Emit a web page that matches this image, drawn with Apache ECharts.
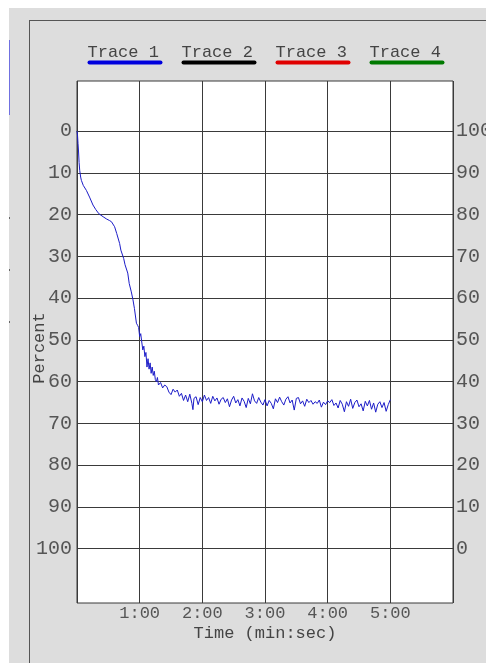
<!DOCTYPE html>
<html>
<head>
<meta charset="utf-8">
<script src="https://cdn.jsdelivr.net/npm/echarts@6/dist/echarts.min.js"></script>
<style>
  html, body { margin: 0; padding: 0; background: #ffffff; }
  #bg { position: absolute; left: 9px; top: 8px; right: 0; bottom: 0; background: #dddddd; }
  #frame { position: absolute; left: 29px; top: 20px; right: 0; bottom: 0; border-left: 1px solid #555; border-top: 1px solid #555; }
  #frag { position: absolute; left: 9px; top: 40px; width: 1px; height: 75px; background: #7070e0; }
  .tk { position: absolute; left: 9px; width: 1px; height: 2px; background: #666; }
  #chart { position: absolute; left: 0; top: 0; width: 486px; height: 663px; }
</style>
</head>
<body>
<div id="bg"></div>
<div id="frame"></div>
<div id="frag"></div>
<div class="tk" style="top:217px"></div>
<div class="tk" style="top:269px"></div>
<div class="tk" style="top:321px"></div>
<div id="chart"></div>
<script>
// ---- data ----
const traceNames = ['Trace 1', 'Trace 2', 'Trace 3', 'Trace 4'];
const traceColors = ['#0000dd', '#000000', '#e00000', '#007a00'];
const percentTicks = [0, 10, 20, 30, 40, 50, 60, 70, 80, 90, 100];
const timeTickValues = [60, 120, 180, 240, 300];
const timeTickLabels = ['1:00', '2:00', '3:00', '4:00', '5:00'];

const timeSec = [
  0, 0.5, 1, 1.5, 2, 2.6, 3.5, 4.2, 6, 9, 12, 15.3, 18, 21, 25, 28, 31, 33, 36, 38,
  40.8, 42, 44.7, 46, 48.6, 50, 52, 53.6, 55, 56.9, 58, 59, 60, 61, 62, 63, 64, 65, 66, 67,
  68, 69, 70, 71, 72, 73, 74, 75, 76, 77, 78, 80, 82, 84, 86, 88, 90, 92, 94, 96,
  98, 100, 102, 104, 106, 108, 110, 111, 112, 114, 116, 118, 120, 122, 124, 126, 128, 130, 132, 134,
  136, 138, 140, 142, 144, 146, 148, 150, 152, 154, 156, 158, 160, 162, 164, 166, 168, 170, 172, 174,
  176, 178, 180, 182, 184, 186, 188, 190, 192, 194, 196, 198, 200, 202, 204, 206, 208, 210, 212, 214,
  216, 218, 220, 222, 224, 226, 228, 230, 232, 234, 236, 238, 240, 242, 244, 246, 248, 250, 252, 254,
  256, 258, 260, 262, 264, 266, 268, 270, 272, 274, 276, 278, 280, 282, 284, 286, 288, 290, 292, 294,
  296, 298, 300
];
const trace1 = [
  0, 1, 3, 5, 7.5, 9.4, 11, 11.8, 13, 14.2, 15.8, 17.7, 18.8, 19.8, 20.5, 21, 21.4, 21.7, 22.9, 24.5,
  26.9, 28.5, 30.5, 32, 34, 36.5, 38.5, 40.4, 42.5, 46, 46.5, 47, 49.2, 48.5, 50.5, 52.4, 51.5, 54, 53, 56.5,
  54.5, 57, 55.5, 58, 56.5, 58.5, 57.5, 59.5, 60, 59, 60.8, 60.2, 61.5, 60.8, 61.2, 62.5, 63.1, 61.8, 62.5, 62,
  63.5, 62.8, 64.5, 63.2, 64.8, 63, 65.2, 66.7, 64, 63.6, 65.5, 63.8, 64.8, 63.2, 64.5, 63.8, 65.2, 63.5, 64.6, 63.9,
  65.4, 64.2, 63.8, 65.0, 64.1, 66.0, 64.4, 63.5, 65.1, 64.3, 65.8, 63.9, 64.7, 66.2, 64.0, 65.3, 62.9, 64.6, 65.2, 63.8,
  64.9, 65.6, 64.3, 65.8, 64.5, 65.2, 66.5, 64.1, 65.0, 63.7, 64.8, 65.6, 64.2, 63.6, 65.1, 64.4, 66.8, 64.0, 63.8, 65.3,
  64.6, 65.9, 64.2, 65.0, 64.5, 65.4, 64.8, 65.2, 64.4, 66.1, 64.9, 65.5, 64.6, 65.0, 64.3, 65.7, 65.1, 66.3, 64.5, 65.4,
  67.2, 64.8, 65.9, 64.2, 66.4, 65.0, 64.4, 66.0, 65.3, 67.0, 64.7, 65.8, 64.5, 66.6, 65.1, 67.3, 65.4, 64.8, 66.2, 65.0,
  67.1, 65.5, 64.3
];
const trace2 = [];
const trace3 = [];
const trace4 = [];

// ---- chart ----
const FONT = '"Liberation Mono", "DejaVu Sans Mono", monospace';
const chart = echarts.init(document.getElementById('chart'), null, { renderer: 'canvas' });

const rich = { t: { fontFamily: FONT, fontSize: 17, color: '#444', lineHeight: 16 } };
traceColors.forEach((c, i) => {
  rich['u' + i] = { backgroundColor: c, width: 75, height: 4, lineHeight: 4, borderRadius: 2 };
});

const allData = [trace1, trace2, trace3, trace4];
const series = traceNames.map((n, i) => ({
  name: n,
  type: 'line',
  yAxisIndex: 0,
  showSymbol: false,
  symbol: 'none',
  animation: false,
  color: traceColors[i],
  lineStyle: { width: 1, color: i === 0 ? '#1c1cc8' : traceColors[i] },
  data: i === 0 ? timeSec.map((t, k) => [t, allData[0][k]]) : allData[i]
}));

chart.setOption({
  backgroundColor: 'transparent',
  animation: false,
  legend: {
    top: 44,
    left: 81.5,
    padding: 0,
    itemWidth: 0,
    itemHeight: 0,
    itemGap: 13,
    selectedMode: false,
    data: traceNames,
    formatter: (name) => '{t|' + name + '}\n{u' + traceNames.indexOf(name) + '|}',
    textStyle: { rich: rich }
  },
  grid: {
    left: 77, right: 33, top: 81, bottom: 60,
    show: true, backgroundColor: '#ffffff', borderColor: '#3a3a3a', borderWidth: 1,
    containLabel: false,
    outerBoundsMode: 'none'
  },
  xAxis: {
    type: 'value', min: 0, max: 360, interval: 60,
    name: 'Time (min:sec)', nameLocation: 'middle', nameGap: 22, nameMoveOverlap: false,
    nameTextStyle: { fontFamily: FONT, fontSize: 17, color: '#444' },
    axisLine: { show: true, lineStyle: { color: '#3a3a3a' } },
    axisTick: { show: false },
    splitLine: { show: true, lineStyle: { color: '#3a3a3a', width: 1 } },
    axisLabel: {
      fontFamily: FONT, fontSize: 17, color: '#555', margin: 2,
      customValues: timeTickValues,
      formatter: (v) => { const i = timeTickValues.indexOf(v); return i >= 0 ? timeTickLabels[i] : ''; }
    }
  },
  yAxis: [
    {
      type: 'value', inverse: true, min: -12, max: 113, position: 'left',
      name: 'Percent', nameLocation: 'middle', nameRotate: 90, nameGap: 29, nameMoveOverlap: false,
      nameTextStyle: { fontFamily: FONT, fontSize: 17, color: '#444', padding: [0, 12, 0, 0] },
      axisLine: { show: false },
      axisTick: { show: false, customValues: percentTicks },
      splitLine: { show: true, lineStyle: { color: '#3a3a3a', width: 1 } },
      axisLabel: { fontFamily: FONT, fontSize: 20, color: '#555', margin: 5, customValues: percentTicks }
    },
    {
      type: 'value', min: -13, max: 112, position: 'right',
      axisLine: { show: false },
      axisTick: { show: false, customValues: percentTicks },
      splitLine: { show: false },
      axisLabel: { fontFamily: FONT, fontSize: 20, color: '#555', margin: 3, customValues: percentTicks }
    }
  ],
  series: series
});
</script>
</body>
</html>
